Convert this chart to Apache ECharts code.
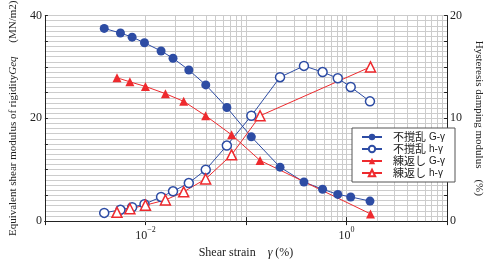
<!DOCTYPE html>
<html>
<head>
<meta charset="utf-8">
<script src="https://cdn.jsdelivr.net/npm/echarts@6/dist/echarts.min.js"></script>
<style>
  html, body { margin: 0; padding: 0; background: #fff; }
  #chart { width: 492px; height: 264px; }
</style>
</head>
<body>
<div id="chart"></div>
<script>
// 不撹乱 (undisturbed) strain points
const strainUndist = [0.00389, 0.00564, 0.00737, 0.00978, 0.0143, 0.0188, 0.0270, 0.0398, 0.0645, 0.113, 0.218, 0.377, 0.578, 0.818, 1.10, 1.71]
const gUndist = [37.5, 36.6, 35.8, 34.7, 33.1, 31.7, 29.4, 26.5, 22.1, 16.4, 10.5, 7.6, 6.2, 5.2, 4.7, 3.9]
const hUndist = [0.8, 1.1, 1.35, 1.65, 2.35, 2.9, 3.7, 5.0, 7.35, 10.25, 14.0, 15.1, 14.5, 13.9, 13.05, 11.65]
// 練返し (remoulded) strain points
const strainRemold = [0.00521, 0.00700, 0.0100, 0.0158, 0.0240, 0.0397, 0.0719, 0.138, 1.73]
const gRemold = [27.9, 27.1, 26.2, 24.8, 23.3, 20.5, 16.8, 11.8, 1.4]
const hRemold = [0.85, 1.2, 1.55, 2.05, 2.85, 4.1, 6.45, 10.25, 15.0]

const seriesNames = ['不撹乱　G-γ', '不撹乱　h-γ', '練返し　G-γ', '練返し　h-γ']
const leftLabels = [0, 20, 40]
const rightLabels = [0, 10, 20]
const decades = [0.001, 0.01, 0.1, 1]

const BLUE = '#2d4ca4'
const RED = '#ee2a2e'
const GRID = '#cccccc'
const SERIF = '"Liberation Serif", "Times New Roman", serif'

// 2..9 gridlines inside each decade
let minorGrid = []
decades.forEach(d => {
  for (let k = 2; k <= 9; k++) minorGrid.push(d * k)
})

function pairs (xs, ys) {
  return xs.map((x, i) => [x, ys[i]])
}

let myChart = echarts.init(document.getElementById('chart'))
let option = {
  animation: false,
  grid: { left: 43, right: 35, top: 12, bottom: 38 },
  legend: {
    data: seriesNames,
    orient: 'vertical',
    left: 352,
    top: 128,
    padding: [3, 4, 3, 9],
    itemGap: 0,
    itemWidth: 20,
    itemHeight: 8,
    backgroundColor: '#fff',
    borderColor: '#555',
    borderWidth: 1,
    borderRadius: 0,
    formatter: function (name) {
      let p = name.split('　')
      return '{a|' + p[0] + '}{b|' + p[1] + '}'
    },
    textStyle: {
      color: '#222',
      fontSize: 11,
      lineHeight: 12,
      rich: {
        a: { width: 36, lineHeight: 12, padding: [0, 0, 0, 6], fontSize: 11, fontFamily: '"Noto Sans CJK JP", sans-serif' },
        b: { width: 22, lineHeight: 12, fontSize: 10, fontFamily: '"Liberation Sans", Arial, sans-serif' }
      }
    }
  },
  xAxis: [
    {
      type: 'log',
      logBase: 10,
      min: 0.001,
      max: 10,
      name: '{n|Shear strain　}{i|γ}{n| (%)}',
      nameLocation: 'middle',
      nameGap: 20,
      nameTextStyle: {
        rich: {
          n: { fontSize: 12, fontFamily: SERIF, color: '#222' },
          i: { fontSize: 12, fontFamily: SERIF, fontStyle: 'italic', color: '#222' }
        }
      },
      axisLine: { show: true, lineStyle: { color: '#222', width: 1 } },
      axisTick: { show: true, inside: true, length: 4, lineStyle: { color: '#222' } },
      axisLabel: {
        margin: 5,
        formatter: function (v) {
          if (Math.abs(v - 0.01) < 1e-9) return '{b|10}{s|−2}'
          if (Math.abs(v - 1) < 1e-9) return '{b|10}{s|0}'
          return ''
        },
        rich: {
          b: { fontSize: 12, fontFamily: SERIF, color: '#222', lineHeight: 16, verticalAlign: 'bottom' },
          s: { fontSize: 8, fontFamily: SERIF, color: '#222', lineHeight: 16, verticalAlign: 'top' }
        }
      },
      splitLine: { show: true, lineStyle: { color: GRID, width: 1 } }
    },
    {
      type: 'log',
      logBase: 10,
      min: 0.001,
      max: 10,
      position: 'top',
      axisLine: { show: true, lineStyle: { color: '#222', width: 1 } },
      axisTick: { show: true, inside: true, length: 4, lineStyle: { color: '#222' } },
      axisLabel: { show: false },
      splitLine: { show: false }
    }
  ],
  yAxis: [
    {
      type: 'value',
      min: 0,
      max: 40,
      interval: 5,
      name: '{n|Equivalent shear modulus of rigidity}{i|Geq}{n|　 (MN/m2)}',
      nameLocation: 'middle',
      nameGap: 15,
      nameTextStyle: {
        rich: {
          n: { fontSize: 11, fontFamily: SERIF, color: '#222' },
          i: { fontSize: 11, fontFamily: SERIF, fontStyle: 'italic', color: '#222' }
        }
      },
      axisLine: { show: true, lineStyle: { color: '#222', width: 1 } },
      axisTick: { show: true, inside: true, length: 3, lineStyle: { color: '#222' } },
      axisLabel: {
        margin: 3,
        fontSize: 12,
        fontFamily: SERIF,
        color: '#222',
        formatter: function (v) { return leftLabels.indexOf(v) >= 0 ? String(v) : '' }
      },
      splitLine: { show: true, lineStyle: { color: GRID, width: 1 } },
      minorTick: { show: false, splitNumber: 5 },
      minorSplitLine: { show: true, lineStyle: { color: GRID, width: 1 } }
    },
    {
      type: 'value',
      min: 0,
      max: 20,
      interval: 2.5,
      position: 'right',
      name: 'Hysteresis damping modulus　(%)',
      nameLocation: 'middle',
      nameGap: 23,
      nameRotate: -90,
      nameTextStyle: { fontSize: 11, fontFamily: SERIF, color: '#222' },
      axisLine: { show: true, lineStyle: { color: '#222', width: 1 } },
      axisTick: { show: true, inside: true, length: 3, lineStyle: { color: '#222' } },
      axisLabel: {
        margin: 3,
        fontSize: 12,
        fontFamily: SERIF,
        color: '#222',
        formatter: function (v) { return rightLabels.indexOf(v) >= 0 ? String(v) : '' }
      },
      splitLine: { show: false }
    }
  ],
  series: [
    {
      // minor vertical gridlines, kept under the data lines
      type: 'line',
      data: [],
      z: 1,
      silent: true,
      markLine: {
        z: 1,
        silent: true,
        symbol: 'none',
        label: { show: false },
        lineStyle: { color: GRID, type: 'solid', width: 1 },
        data: minorGrid.map(v => ({ xAxis: v }))
      }
    },
    {
      name: seriesNames[0],
      type: 'line',
      yAxisIndex: 0,
      symbol: 'circle',
      symbolSize: 9,
      itemStyle: { color: BLUE },
      lineStyle: { color: BLUE, width: 1 },
      data: pairs(strainUndist, gUndist)
    },
    {
      name: seriesNames[1],
      type: 'line',
      yAxisIndex: 1,
      symbol: 'circle',
      symbolSize: 9,
      itemStyle: { color: '#fff', borderColor: BLUE, borderWidth: 1.5 },
      lineStyle: { color: BLUE, width: 1 },
      data: pairs(strainUndist, hUndist)
    },
    {
      name: seriesNames[2],
      type: 'line',
      yAxisIndex: 0,
      symbol: 'triangle',
      symbolSize: 9,
      itemStyle: { color: RED },
      lineStyle: { color: RED, width: 1 },
      data: pairs(strainRemold, gRemold)
    },
    {
      name: seriesNames[3],
      type: 'line',
      yAxisIndex: 1,
      symbol: 'triangle',
      symbolSize: 10,
      itemStyle: { color: '#fff', borderColor: RED, borderWidth: 1.5 },
      lineStyle: { color: RED, width: 1 },
      data: pairs(strainRemold, hRemold)
    }
  ]
}
myChart.setOption(option, true)
</script>
</body>
</html>
